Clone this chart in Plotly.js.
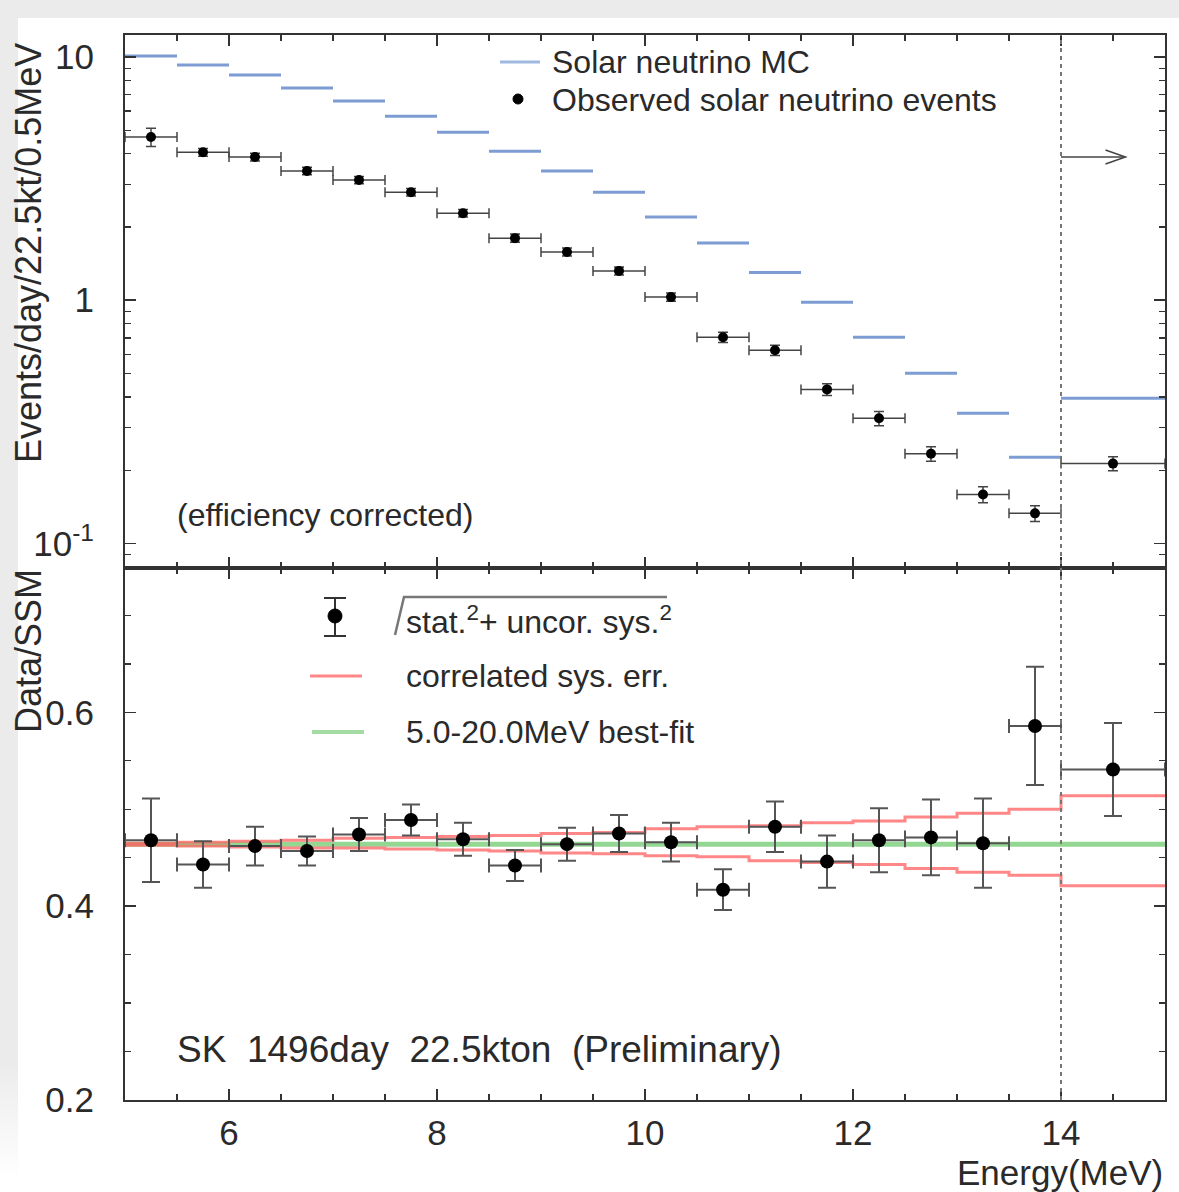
<!DOCTYPE html>
<html><head><meta charset="utf-8">
<script src="https://cdn.plot.ly/plotly-3.0.1.min.js"></script>
<style>
html,body{margin:0;padding:0;width:1179px;height:1192px;overflow:hidden;background:#ffffff;}
#bandTop{position:absolute;left:0;top:0;width:1179px;height:18px;background:#ebebeb;z-index:0;}
#bandLeft{position:absolute;left:0;top:0;width:18px;height:1192px;background:linear-gradient(to bottom,#ebebeb 0,#ebebeb 1060px,#ffffff 1180px);z-index:0;}
#chart{position:absolute;left:0;top:0;width:1179px;height:1192px;z-index:1;}
</style></head><body><div id="bandTop"></div><div id="bandLeft"></div><div id="chart"></div><script>
// ---- data ----
const binLow  = [5.0,5.5,6.0,6.5,7.0,7.5,8.0,8.5,9.0,9.5,10.0,10.5,11.0,11.5,12.0,12.5,13.0,13.5,14.0];
const binHigh = [5.5,6.0,6.5,7.0,7.5,8.0,8.5,9.0,9.5,10.0,10.5,11.0,11.5,12.0,12.5,13.0,13.5,14.0,15.0];
const mcRate  = [10.1,9.27,8.43,7.45,6.59,5.71,4.91,4.10,3.40,2.78,2.20,1.72,1.30,0.98,0.704,0.501,0.343,0.226,0.395];
const obsRate = [4.69,4.06,3.88,3.40,3.12,2.78,2.28,1.80,1.58,1.32,1.03,0.704,0.623,0.430,0.327,0.234,0.159,0.133,0.213];
const obsRateErr = [0.40,0.15,0.14,0.12,0.11,0.10,0.08,0.07,0.06,0.05,0.04,0.034,0.030,0.024,0.022,0.016,0.012,0.010,0.014];
const dataOverSSM    = [0.468,0.443,0.462,0.457,0.474,0.489,0.469,0.442,0.464,0.475,0.466,0.417,0.482,0.446,0.468,0.471,0.465,0.586,0.541];
const dataOverSSMErr = [0.043,0.024,0.020,0.015,0.017,0.016,0.017,0.016,0.017,0.019,0.020,0.021,0.026,0.027,0.033,0.039,0.046,0.061,0.048];
const corrSysUpper = [0.465,0.466,0.467,0.468,0.470,0.471,0.472,0.473,0.475,0.476,0.480,0.482,0.483,0.486,0.488,0.492,0.496,0.500,0.514];
const corrSysLower = [0.463,0.462,0.461,0.460,0.460,0.459,0.458,0.457,0.455,0.454,0.452,0.451,0.447,0.445,0.443,0.439,0.435,0.432,0.421];
const bestFit = 0.464;
const thresholdEnergy = 14.0;
const arrowLevel = 3.88;
const arrowEnd = 14.62;
const xTickVals = [6,8,10,12,14];
const yTopTickVals = [0.1,1,10];
const yTopTickText = ['10<sup>-1</sup>','1','10'];
const yBotTickVals = [0.2,0.4,0.6];
const yBotTickText = ['0.2','0.4','0.6'];

// ---- derived ----
const centers = binLow.map((lo,i)=>(lo+binHigh[i])/2);
const halfW = binLow.map((lo,i)=>(binHigh[i]-lo)/2);
const xMin = binLow[0], xMax = binHigh[binHigh.length-1];
const mcX = [], mcY = [];
binLow.forEach((lo,i)=>{ mcX.push(lo, binHigh[i], null); mcY.push(mcRate[i], mcRate[i], null); });
const stepX = binLow.concat([xMax]);
const upY = corrSysUpper.concat([corrSysUpper[corrSysUpper.length-1]]);
const loY = corrSysLower.concat([corrSysLower[corrSysLower.length-1]]);

const FONT = 'Liberation Sans, Arial, Helvetica, sans-serif';
const TXT = '#2a2a2a';
const AX = '#333333';
const RED = 'rgba(255,95,95,0.75)';

const traces = [
  {x:mcX, y:mcY, xaxis:'x', yaxis:'y', mode:'lines', line:{color:'rgb(125,156,212)', width:3}, connectgaps:false, hoverinfo:'skip', showlegend:false},
  {x:centers, y:obsRate, xaxis:'x', yaxis:'y', mode:'markers', marker:{color:'#000', size:10},
   error_x:{type:'data', array:halfW, color:'#444', thickness:1.5, width:5},
   error_y:{type:'data', array:obsRateErr, color:'#444', thickness:1.5, width:5}, showlegend:false},
  {x:[xMin,xMax], y:[bestFit,bestFit], xaxis:'x2', yaxis:'y2', mode:'lines', line:{color:'rgba(120,205,120,0.8)', width:5}, showlegend:false},
  {x:stepX, y:upY, xaxis:'x2', yaxis:'y2', mode:'lines', line:{color:RED, width:3, shape:'hv'}, showlegend:false},
  {x:stepX, y:loY, xaxis:'x2', yaxis:'y2', mode:'lines', line:{color:RED, width:3, shape:'hv'}, showlegend:false},
  {x:centers, y:dataOverSSM, xaxis:'x2', yaxis:'y2', mode:'markers', marker:{color:'#000', size:14},
   error_x:{type:'data', array:halfW, color:'#555', thickness:2, width:7},
   error_y:{type:'data', array:dataOverSSMErr, color:'#555', thickness:2, width:9}, showlegend:false}
];

const PX = x => (x-125)/1040;
const PY = y => (1100-y)/1065;

const baseX = {range:[xMin,xMax], showgrid:false, zeroline:false, showline:true, linecolor:AX, linewidth:2,
  mirror:'allticks', ticks:'inside', ticklen:11, tickwidth:1.5, tickcolor:AX, tickmode:'array', tickvals:xTickVals,
  minor:{dtick:0.5, tick0:0, ticks:'inside', ticklen:6, tickwidth:1.2, tickcolor:AX},
  tickfont:{family:FONT, size:35, color:TXT}};

const layout = {
  width:1179, height:1192,
  margin:{l:125, r:14, t:35, b:92},
  paper_bgcolor:'rgba(0,0,0,0)', plot_bgcolor:'#ffffff',
  showlegend:false,
  font:{family:FONT, color:TXT},
  xaxis:Object.assign({}, baseX, {domain:[0,1], anchor:'y', showticklabels:false}),
  xaxis2:Object.assign({}, baseX, {domain:[0,1], anchor:'y2', showticklabels:true, ticklabelstandoff:1}),
  yaxis:{domain:[0.5,1], type:'log', range:[-1.0988,1.0905], showgrid:false, zeroline:false, showline:true, linecolor:AX, linewidth:2,
    mirror:'allticks', ticks:'inside', ticklen:11, tickwidth:1.5, tickcolor:AX,
    tickmode:'array', tickvals:yTopTickVals, ticktext:yTopTickText,
    minor:{tickmode:'array', tickvals:[0.09,0.2,0.3,0.4,0.5,0.6,0.7,0.8,0.9,2,3,4,5,6,7,8,9], ticks:'inside', ticklen:6, tickwidth:1.2, tickcolor:AX},
    tickfont:{family:FONT, size:35, color:TXT}, ticklabelstandoff:22},
  yaxis2:{domain:[0,0.5], range:[0.2,0.7495], showgrid:false, zeroline:false, showline:true, linecolor:AX, linewidth:2,
    mirror:'allticks', ticks:'inside', ticklen:11, tickwidth:1.5, tickcolor:AX,
    tickmode:'array', tickvals:yBotTickVals, ticktext:yBotTickText,
    minor:{dtick:0.05, tick0:0, ticks:'inside', ticklen:6, tickwidth:1.2, tickcolor:AX},
    tickfont:{family:FONT, size:35, color:TXT}, ticklabelstandoff:22},
  shapes:[
    {type:'line', xref:'x', yref:'paper', x0:thresholdEnergy, x1:thresholdEnergy, y0:0, y1:1, line:{color:'#777', width:2, dash:'4px,4px'}},
    {type:'line', xref:'x', yref:'y', x0:thresholdEnergy, x1:arrowEnd, y0:arrowLevel, y1:arrowLevel, line:{color:'#444', width:1.5}},
    {type:'path', xref:'x', yref:'y', xsizemode:'pixel', ysizemode:'pixel', xanchor:arrowEnd, yanchor:arrowLevel,
      path:'M -20 7 L 0 0 L -20 -7', line:{color:'#444', width:1.5}},
    // top legend samples
    {type:'line', xref:'paper', yref:'paper', x0:PX(500), x1:PX(540), y0:PY(62), y1:PY(62), line:{color:'rgb(160,185,225)', width:3}},
    {type:'circle', xref:'paper', yref:'paper', x0:PX(513), x1:PX(523), y0:PY(94), y1:PY(104), fillcolor:'#000', line:{color:'#000', width:1}},
    // bottom legend samples
    {type:'line', xref:'paper', yref:'paper', x0:PX(335), x1:PX(335), y0:PY(598), y1:PY(636), line:{color:'#333', width:2}},
    {type:'line', xref:'paper', yref:'paper', x0:PX(324), x1:PX(346), y0:PY(598), y1:PY(598), line:{color:'#333', width:2}},
    {type:'line', xref:'paper', yref:'paper', x0:PX(324), x1:PX(346), y0:PY(636), y1:PY(636), line:{color:'#333', width:2}},
    {type:'circle', xref:'paper', yref:'paper', x0:PX(328), x1:PX(342), y0:PY(609), y1:PY(623), fillcolor:'#000', line:{color:'#000', width:1}},
    {type:'path', xref:'paper', yref:'paper', path:'M '+PX(395)+','+PY(635)+' L '+PX(404)+','+PY(597)+' L '+PX(667)+','+PY(597), line:{color:'#777', width:2.5}},
    {type:'line', xref:'paper', yref:'paper', x0:PX(310), x1:PX(362), y0:PY(676), y1:PY(676), line:{color:RED, width:3}},
    {type:'line', xref:'paper', yref:'paper', x0:PX(312), x1:PX(364), y0:PY(732), y1:PY(732), line:{color:'rgba(140,210,140,0.8)', width:4}}
  ],
  annotations:[
    {text:'Solar neutrino MC', xref:'paper', yref:'paper', x:PX(550), y:PY(62), xanchor:'left', yanchor:'middle', showarrow:false, font:{family:FONT, size:32, color:TXT}},
    {text:'Observed solar neutrino events', xref:'paper', yref:'paper', x:PX(550), y:PY(100), xanchor:'left', yanchor:'middle', showarrow:false, font:{family:FONT, size:32, color:TXT}},
    {text:'(efficiency corrected)', xref:'paper', yref:'paper', x:PX(175), y:PY(515), xanchor:'left', yanchor:'middle', showarrow:false, font:{family:FONT, size:32, color:TXT}},
    {text:'stat.<sup>2</sup>+ uncor. sys.<sup>2</sup>', xref:'paper', yref:'paper', x:PX(404), y:PY(620), xanchor:'left', yanchor:'middle', showarrow:false, font:{family:FONT, size:32, color:TXT}},
    {text:'correlated sys. err.', xref:'paper', yref:'paper', x:PX(404), y:PY(676), xanchor:'left', yanchor:'middle', showarrow:false, font:{family:FONT, size:32, color:TXT}},
    {text:'5.0-20.0MeV best-fit', xref:'paper', yref:'paper', x:PX(404), y:PY(732), xanchor:'left', yanchor:'middle', showarrow:false, font:{family:FONT, size:32, color:TXT}},
    {text:'SK\u00a0\u00a01496day\u00a0\u00a022.5kton\u00a0\u00a0(Preliminary)', xref:'paper', yref:'paper', x:PX(175), y:PY(1049), xanchor:'left', yanchor:'middle', showarrow:false, font:{family:FONT, size:37, color:TXT}},
    {text:'Events/day/22.5kt/0.5MeV', xref:'paper', yref:'paper', x:PX(28), y:PY(253), xanchor:'center', yanchor:'middle', textangle:-90, showarrow:false, font:{family:FONT, size:36, color:TXT}},
    {text:'Data/SSM', xref:'paper', yref:'paper', x:PX(28), y:PY(651), xanchor:'center', yanchor:'middle', textangle:-90, showarrow:false, font:{family:FONT, size:36, color:TXT}},
    {text:'Energy(MeV)', xref:'paper', yref:'paper', x:1, y:PY(1172), xanchor:'right', yanchor:'middle', showarrow:false, font:{family:FONT, size:35, color:TXT}}
  ]
};

Plotly.newPlot('chart', traces, layout, {displayModeBar:false, staticPlot:true});
</script></body></html>
